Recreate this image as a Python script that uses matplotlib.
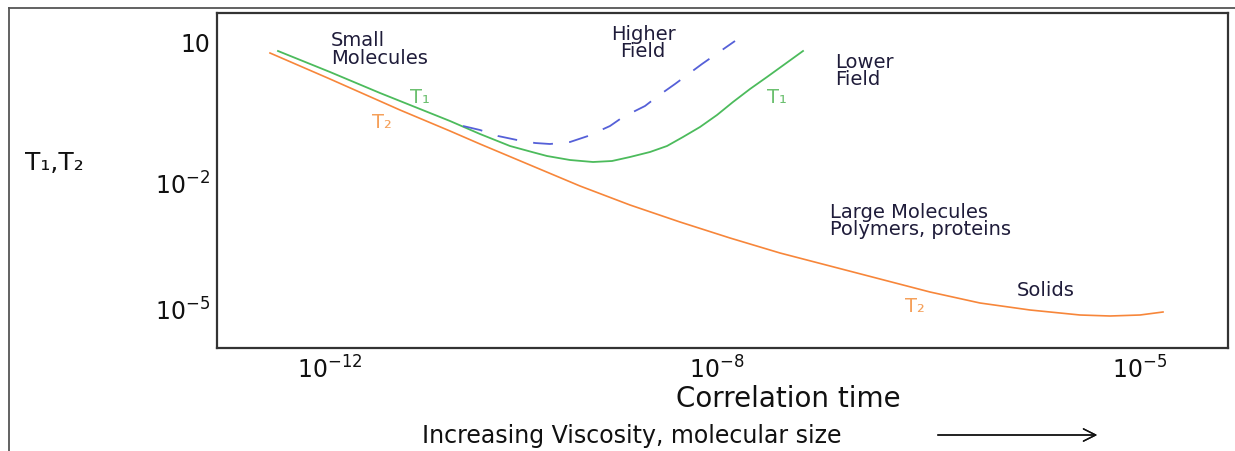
import numpy as np
import matplotlib
matplotlib.use("Agg")
import matplotlib.pyplot as plt
from matplotlib.lines import Line2D

# ========================================
# data (schematic positions on the plot, no real units)
# ========================================
# T1 at lower field (solid green)
t1_low_x = [61, 113, 163, 193, 233, 263, 293, 315, 330, 353, 376, 395, 413, 433, 450, 466, 483, 500, 516, 533, 550, 568, 586]
t1_low_y = [297, 276, 255, 243, 227, 214, 202, 196, 192, 188, 186, 187, 191, 196, 202, 211, 221, 233, 246, 259, 271, 284, 297]

# T1 at higher field (dashed blue)
t1_high_x = [246, 263, 281, 300, 318, 333, 353, 371, 393, 406, 428, 441, 458, 485, 518]
t1_high_y = [222, 218, 212, 208, 205, 204, 206, 212, 222, 231, 242, 252, 264, 284, 307]

# T2 (orange)
t2_x = [53, 113, 183, 233, 263, 313, 363, 413, 463, 513, 563, 613, 663, 713, 763, 813, 863, 893, 923, 946]
t2_y = [295, 269, 238, 217, 204, 183, 162, 143, 126, 110, 95, 82, 69, 56, 45, 38, 33, 32, 33, 36]

# axis ticks
xtick_pos = [113, 500, 923]
xtick_lab = ["10$^{-12}$", "10$^{-8}$", "10$^{-5}$"]
ytick_pos = [306, 165, 39]
ytick_lab = ["10", "10$^{-2}$", "10$^{-5}$"]

GREEN = "#4cbb5c"
BLUE = "#5560d8"
ORANGE = "#f7863a"
TXT = "#1f1c3a"
FS = 14  # labels inside the box

plt.rcParams["font.family"] = ["DejaVu Sans"]
plt.rcParams["mathtext.fontset"] = "dejavusans"

W, H = 1235, 452
fig = plt.figure(figsize=(W / 100, H / 100), dpi=100)
ax = fig.add_axes([217 / W, 1 - 349 / H, (1228 - 217) / W, (349 - 14) / H])
ax.set_xlim(0, 1011)
ax.set_ylim(0, 335)

ax.plot(t1_low_x, t1_low_y, color=GREEN, lw=1.3)
ax.plot(t1_high_x, t1_high_y, color=BLUE, lw=1.3, dashes=(11, 9))
ax.plot(t2_x, t2_y, color=ORANGE, lw=1.2)

ax.set_xticks(xtick_pos)
ax.set_xticklabels(xtick_lab, fontsize=17, color="#111111")
ax.set_yticks(ytick_pos)
ax.set_yticklabels(ytick_lab, fontsize=17, color="#111111")
ax.tick_params(length=0, pad=5)
for s in ax.spines.values():
    s.set_linewidth(1.6)
    s.set_color("#333333")

# labels inside the box
ax.text(114, 318, "Small\nMolecules", fontsize=FS, color=TXT, va="top", linespacing=0.95)
ax.text(426, 324, "Higher\nField", fontsize=FS, color=TXT, va="top", ha="center", linespacing=0.9)
ax.text(618, 296, "Lower\nField", fontsize=FS, color=TXT, va="top", linespacing=0.9)
ax.text(613, 146, "Large Molecules\nPolymers, proteins", fontsize=FS, color=TXT, va="top", linespacing=0.85)
ax.text(800, 59, "Solids", fontsize=FS, color=TXT, va="center")
ax.text(193, 251, "T\u2081", fontsize=FS, color="#6cc070", va="center")
ax.text(550, 251, "T\u2081", fontsize=FS, color="#6cc070", va="center")
ax.text(155, 226, "T\u2082", fontsize=FS, color="#f5a05a", va="center")
ax.text(688, 42, "T\u2082", fontsize=FS, color="#f5a05a", va="center")

# labels outside the box
fig.text(25 / W, 1 - 163 / H, "T\u2081,T\u2082", fontsize=18, color="#111111", va="center")
fig.text(788 / W, 1 - 399 / H, "Correlation time", fontsize=20, color="#111111",
         ha="center", va="center")
fig.text(422 / W, 1 - 436 / H, "Increasing Viscosity, molecular size", fontsize=17,
         color="#111111", va="center")
fig.add_artist(plt.annotate("", xy=(1100 / W, 1 - 436 / H), xytext=(935 / W, 1 - 436 / H),
                            xycoords="figure fraction", textcoords="figure fraction",
                            arrowprops=dict(arrowstyle="->", lw=1.0, color="#111111",
                                            mutation_scale=22)))

# outer frame
fig.add_artist(Line2D([9 / W, 9 / W], [0, 1 - 9 / H], color="#555555", lw=1.3))
fig.add_artist(Line2D([9 / W, 1], [1 - 9 / H, 1 - 9 / H], color="#555555", lw=1.3))

fig.savefig("out.png", dpi=100)
